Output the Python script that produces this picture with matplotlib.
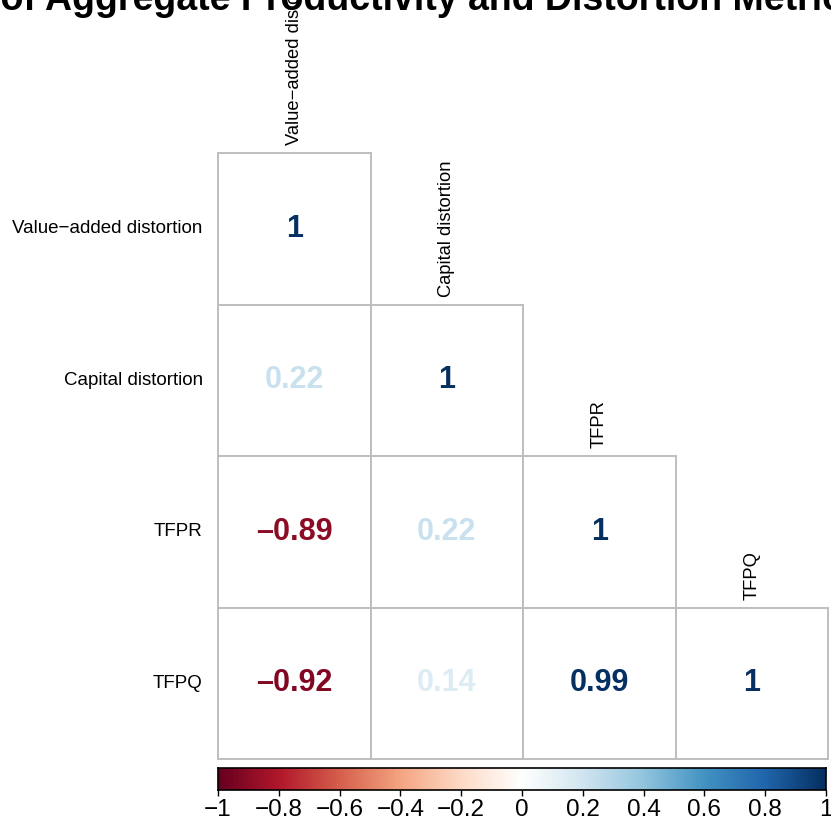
import numpy as np
import matplotlib
matplotlib.use("Agg")
import matplotlib.pyplot as plt
from matplotlib.colors import LinearSegmentedColormap, Normalize
from matplotlib.patches import Rectangle

plt.rcParams['font.family'] = ['Liberation Sans', 'DejaVu Sans']

# Variables and lower-triangle correlations
labels = ["Value\u2212added distortion", "Capital distortion", "TFPR", "TFPQ"]
corr = np.array([
    [1.00, 0.22, -0.89, -0.92],
    [0.22, 1.00, 0.22, 0.14],
    [-0.89, 0.22, 1.00, 0.99],
    [-0.92, 0.14, 0.99, 1.00],
])
title = "Correlation of Aggregate Productivity and Distortion Metrics"
cbar_ticks = [-1, -0.8, -0.6, -0.4, -0.2, 0, 0.2, 0.4, 0.6, 0.8, 1]

# RdBu palette as used by corrplot (COL2)
rdbu = ["#67001F", "#B2182B", "#D6604D", "#F4A582", "#FDDBC7", "#FFFFFF",
        "#D1E5F0", "#92C5DE", "#4393C3", "#2166AC", "#053061"]
cmap = LinearSegmentedColormap.from_list("rdbu", rdbu, N=200)
norm = Normalize(-1, 1)

W, H = 831, 822
fig = plt.figure(figsize=(W / 100, H / 100), dpi=100)

def box(x0, y0, x1, y1):
    return [x0 / W, 1 - y1 / H, (x1 - x0) / W, (y1 - y0) / H]

n = len(labels)
ax = fig.add_axes(box(218, 153, 828, 759))
ax.set_xlim(0, n)
ax.set_ylim(n, 0)
ax.axis("off")

for i in range(n):
    for j in range(i + 1):
        ax.add_patch(Rectangle((j, i), 1, 1, facecolor="white",
                               edgecolor="#BEBEBE", lw=1.4, clip_on=False))
        v = corr[i, j]
        txt = f"{v:.2f}".rstrip("0").rstrip(".").replace("-", "\u2013")
        ax.text(j + 0.5, i + 0.5, txt, ha="center", va="center",
                fontsize=22, fontweight="bold", color=cmap(norm(v)))
    # row labels on the left
    ax.text(-0.1, i + 0.5, labels[i], ha="right", va="center", fontsize=13.5)
    # column labels above the diagonal
    ax.text(i + 0.5, i - 0.05, labels[i], ha="center", va="bottom",
            rotation=90, fontsize=13.2, clip_on=False)

# colour legend
cax = fig.add_axes(box(218, 768, 826, 790))
grad = np.linspace(-1, 1, 400).reshape(1, -1)
cax.imshow(grad, cmap=cmap, norm=norm, aspect="auto", extent=(-1, 1, 0, 1))
cax.set_xlim(-1, 1)
cax.set_yticks([])
cax.set_xticks(cbar_ticks)
cax.set_xticklabels([("%g" % t).replace("-", "\u2212") for t in cbar_ticks])
cax.tick_params(axis="x", length=4, width=1, pad=2.5, labelsize=17.5)
for s in cax.spines.values():
    s.set_linewidth(1.2)

# title, clipped by the figure edges
r = fig.canvas.get_renderer()
tsize = 27
tmp1 = fig.text(0, 0, "Correlation of", fontsize=tsize, fontweight="bold")
tmp2 = fig.text(0, 0, "of", fontsize=tsize, fontweight="bold")
shift = tmp1.get_window_extent(r).width - tmp2.get_window_extent(r).width
tmp1.remove()
tmp2.remove()
fig.text(-shift / W, 1 - 10 / H, title, ha="left", va="baseline",
         fontsize=tsize, fontweight="bold")

fig.savefig("out.png", dpi=100)
